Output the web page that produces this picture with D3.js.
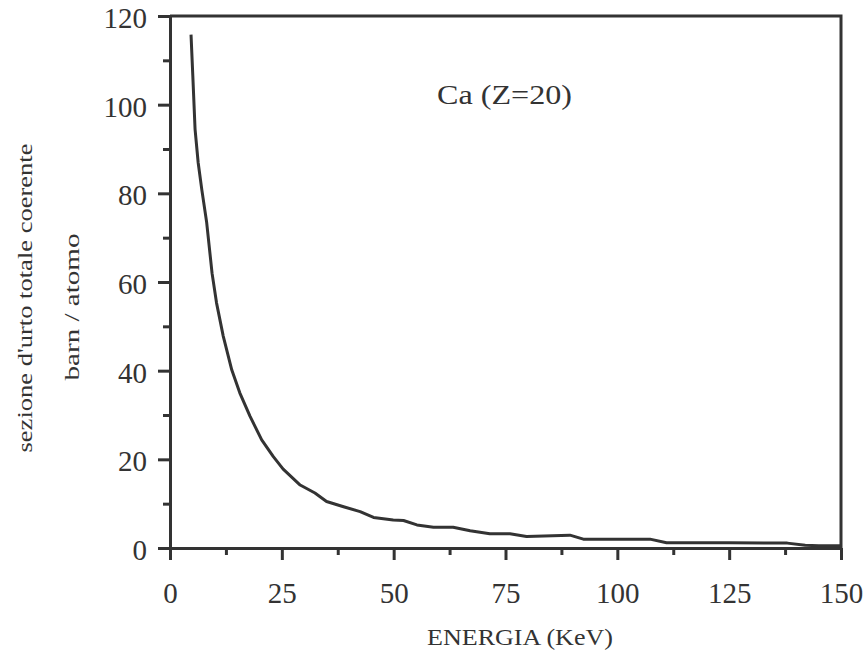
<!DOCTYPE html>
<html>
<head>
<meta charset="utf-8">
<script src="https://cdn.jsdelivr.net/npm/d3@7"></script>
<style>
  body { margin: 0; background: #fff; }
  text { font-family: "Liberation Serif", "Times New Roman", serif; fill: #333; }
</style>
</head>
<body>
<div class="container"></div>
<script>
// chart size and margins (plot area matches the scanned figure)
const width = 868;
const height = 656;
const margin = { top: 16, right: 27, bottom: 108, left: 170 };

// data: energy (keV) and cross section (barn / atom)
const energy = [4.7, 5.1, 5.6, 6.3, 7.1, 8.2, 9.4, 10.4, 11.9, 13.8, 15.6, 17.9, 20.5, 23.1,
  25.3, 29.1, 32.4, 35.0, 38.8, 42.5, 45.5, 49.9, 52.2, 55.2, 58.9, 63.3, 67.1, 71.5,
  76.0, 79.7, 89.4, 92.4, 100, 107.3, 111.0, 125, 138, 142, 145, 150];
const sigma = [115.8, 106.5, 94.5, 86.9, 80.9, 73.4, 62.0, 55.3, 47.8, 40.2, 35.0, 29.7, 24.4, 20.6,
  17.8, 14.2, 12.4, 10.5, 9.3, 8.2, 6.9, 6.3, 6.2, 5.2, 4.7, 4.7, 3.9, 3.2,
  3.2, 2.6, 2.9, 2.0, 2.0, 2.0, 1.2, 1.2, 1.1, 0.6, 0.5, 0.5];

// tick values
const xTicks = [0, 25, 50, 75, 100, 125, 150];
const xMinor = [12.5, 37.5, 62.5, 87.5, 112.5, 137.5];
const yTicks = [0, 20, 40, 60, 80, 100, 120];
const yMinor = [10, 30, 50, 70, 90, 110];

const label = "Ca (Z=20)";
const xTitle = "ENERGIA (KeV)";
const yTitle1 = "sezione d'urto totale coerente";
const yTitle2 = "barn / atomo";

const ink = "#333";

const svg = d3.select(".container")
  .append("svg")
  .attr("width", width)
  .attr("height", height);

const xScale = d3.scaleLinear()
  .domain([0, 150])
  .range([margin.left, width - margin.right]);

const yScale = d3.scaleLinear()
  .domain([0, 120])
  .range([height - margin.bottom, margin.top]);

// minor ticks first, no labels
svg.append("g")
  .attr("transform", `translate(0, ${height - margin.bottom})`)
  .call(d3.axisBottom(xScale).tickValues(xMinor).tickSize(7).tickFormat(""))
  .call(g => g.select(".domain").remove());

svg.append("g")
  .attr("transform", `translate(${margin.left}, 0)`)
  .call(d3.axisLeft(yScale).tickValues(yMinor).tickSize(7).tickFormat(""))
  .call(g => g.select(".domain").remove());

// major ticks with labels
svg.append("g")
  .attr("class", "xaxis")
  .attr("transform", `translate(0, ${height - margin.bottom})`)
  .call(d3.axisBottom(xScale).tickValues(xTicks).tickSize(12).tickSizeOuter(0).tickPadding(22));

svg.append("g")
  .attr("class", "yaxis")
  .attr("transform", `translate(${margin.left}, 0)`)
  .call(d3.axisLeft(yScale).tickValues(yTicks).tickSize(12).tickSizeOuter(0).tickPadding(11));

svg.selectAll(".tick line").attr("stroke", ink).attr("stroke-width", 3);
svg.selectAll(".domain").attr("stroke", ink).attr("stroke-width", 3);
svg.selectAll(".tick text")
  .attr("font-family", "Liberation Serif")
  .attr("font-size", 29)
  .attr("fill", ink);
svg.selectAll(".yaxis .tick text").attr("dy", "0.4em");

// frame: top and right sides
svg.append("path")
  .attr("d", d3.line()([[xScale(0), yScale(120)], [xScale(150), yScale(120)], [xScale(150), yScale(0)]]))
  .attr("fill", "none")
  .attr("stroke", ink)
  .attr("stroke-width", 3);

// the curve
const line = d3.line()
  .x((d, i) => xScale(energy[i]))
  .y(d => yScale(d));

svg.append("path")
  .datum(sigma)
  .attr("d", line)
  .attr("fill", "none")
  .attr("stroke", ink)
  .attr("stroke-width", 3)
  .attr("stroke-linejoin", "round");

// label inside the plot
svg.append("text")
  .attr("x", 437)
  .attr("y", 104)
  .attr("font-size", 27)
  .attr("textLength", 135)
  .attr("lengthAdjust", "spacingAndGlyphs")
  .text(label);

// axis titles
svg.append("text")
  .attr("x", 427)
  .attr("y", 645)
  .attr("font-size", 23)
  .attr("textLength", 186)
  .attr("lengthAdjust", "spacingAndGlyphs")
  .text(xTitle);

svg.append("text")
  .attr("transform", "translate(32, 298) rotate(-90)")
  .attr("text-anchor", "middle")
  .attr("font-size", 22)
  .attr("textLength", 309)
  .attr("lengthAdjust", "spacingAndGlyphs")
  .text(yTitle1);

svg.append("text")
  .attr("transform", "translate(79, 307) rotate(-90)")
  .attr("text-anchor", "middle")
  .attr("font-size", 22)
  .attr("textLength", 147)
  .attr("lengthAdjust", "spacingAndGlyphs")
  .text(yTitle2);
</script>
</body>
</html>
